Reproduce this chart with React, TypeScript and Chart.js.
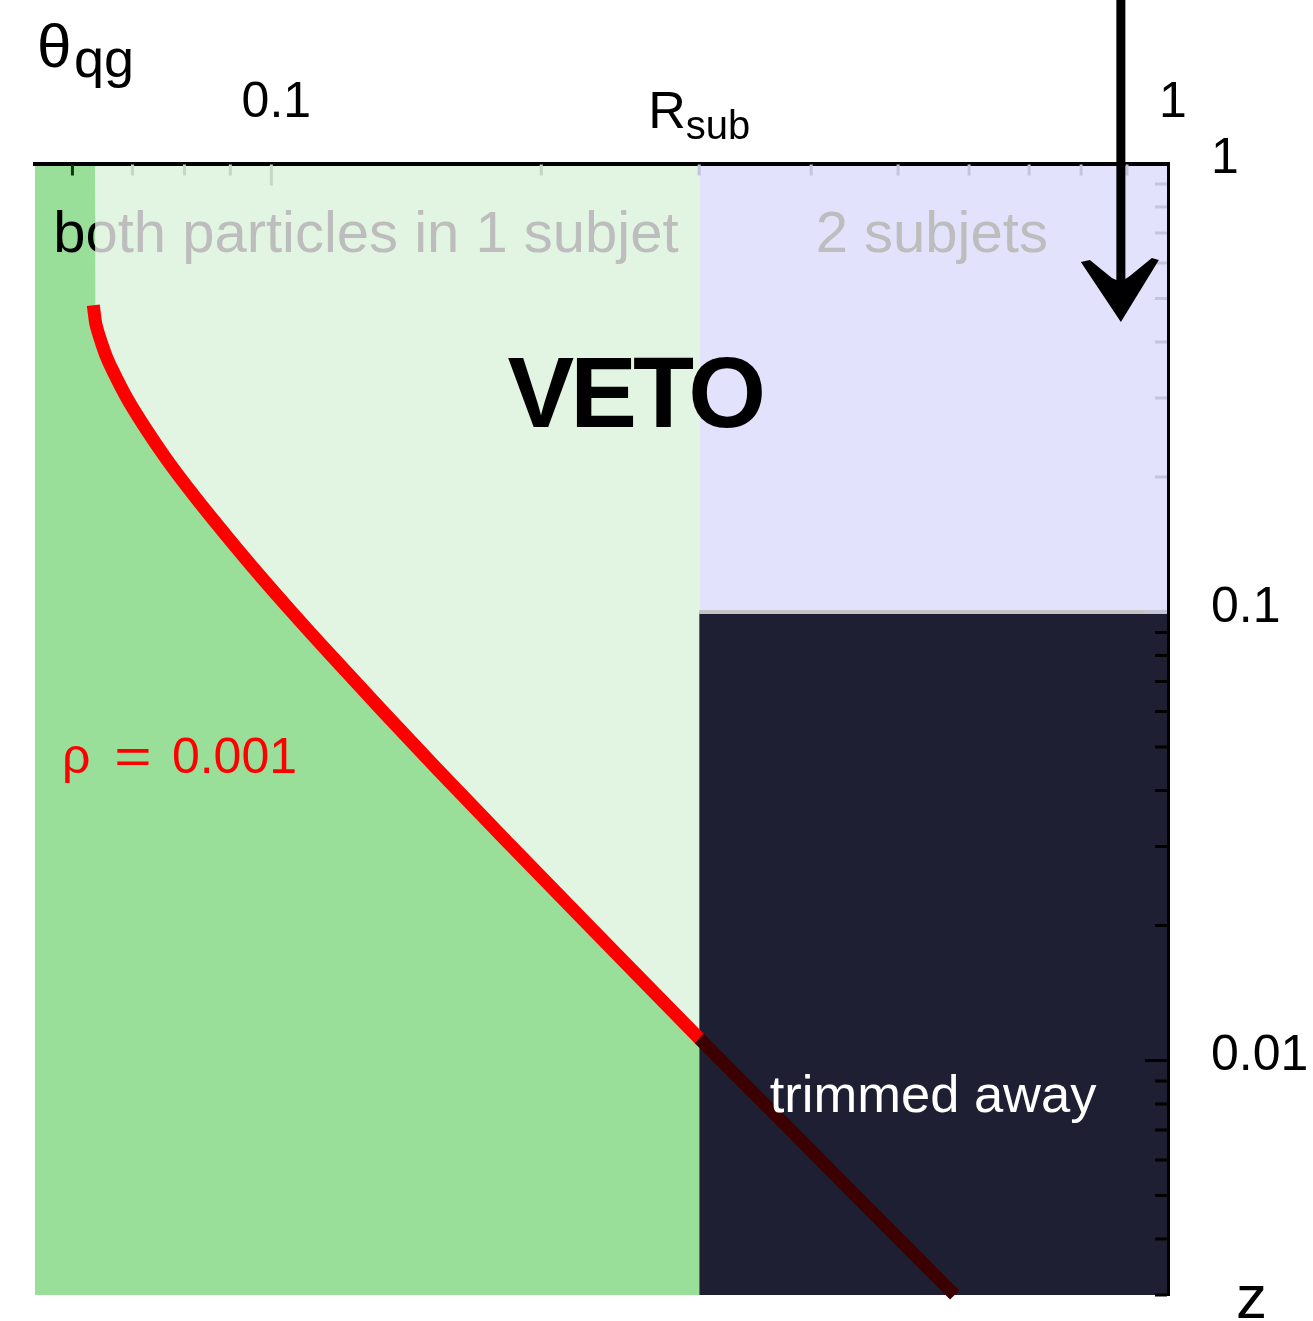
import React, { useEffect, useRef } from 'react';
import { Chart, registerables } from 'chart.js';

Chart.register(...registerables);

// ---------- axis ranges ----------
const THETA_MIN = 0.0545;
const THETA_MAX = 1;
const Z_MIN = 0.003;
const Z_MAX = 1;
const R_SUB = 0.3; // subjet radius (x position of "R_sub")
const Z_CUT = 0.1; // trimming cut in z
const THETA_STRIP = 0.0636; // right edge of the dark-green strip at the top
const Z_STRIP = 0.447; // where that edge meets the curve

// ---------- tick values ----------
const thetaLabelTicks = [0.1, 1];
const zLabelTicks = [0.01, 0.1, 1];
const thetaMinorTicks = [0.06, 0.07, 0.08, 0.09, 0.2, 0.3, 0.4, 0.5, 0.6, 0.7, 0.8, 0.9];
const thetaMajorTicks = [0.1];
const zMinorTicks = [
  0.9, 0.8, 0.7, 0.6, 0.5, 0.4, 0.3, 0.2,
  0.09, 0.08, 0.07, 0.06, 0.05, 0.04, 0.03, 0.02,
  0.009, 0.008, 0.007, 0.006, 0.005, 0.004, 0.003,
];
const zMajorTicks = [0.1, 0.01];

// ---------- rho = 0.001 curve ----------
const curveTheta = [
  0.0633, 0.0635, 0.0637, 0.0641, 0.0646, 0.0655, 0.0668, 0.069, 0.0721, 0.0763,
  0.0823, 0.0886, 0.0973, 0.1054, 0.1166, 0.1332, 0.1525, 0.1854, 0.2259, 0.3,
  0.3793, 0.4483, 0.5782,
];
const curveZ = [
  0.483, 0.46, 0.44, 0.42, 0.4, 0.37, 0.34, 0.3, 0.26, 0.22,
  0.18, 0.15, 0.12, 0.1, 0.08, 0.06, 0.045, 0.03, 0.02, 0.0112,
  0.007, 0.005, 0.003,
];

// ---------- texts ----------
const thetaTitle = 'θ';
const thetaTitleSub = 'qg';
const zTitle = 'z';
const rSubMain = 'R';
const rSubSub = 'sub';
const oneSubjetText = 'both particles in 1 subjet';
const twoSubjetText = '2 subjets';
const vetoText = 'VETO';
const rhoParts = ['ρ', '=', '0.001'];
const trimmedText = 'trimmed away';

// ---------- styles ----------
const FONT = "'Liberation Sans', Arial, Helvetica, sans-serif";
const DARK_GREEN = '#99de99';
const LIGHT_GREEN = '#e2f5e2';
const LAVENDER = '#e2e2fc';
const NAVY = '#1f1f33';
const RED = '#ff0000';
const DARK_RED = '#3c0000';
const GRAY_TEXT = '#bdbdbd';
const TICK_DARK = '#0f350f';
const TICK_GREEN = '#c3d7c3';
const TICK_LAV = '#c4c4dc';

const pts = (xs: number[], ys: number[]) => xs.map((x, i) => ({ x, y: ys[i] }));

const overlayPlugin = {
  id: 'overlay',
  afterDraw(chart: any) {
    const { ctx, chartArea: ca } = chart;
    const xs = chart.scales.x;
    const ys = chart.scales.y;
    const X = (v: number) => xs.getPixelForValue(v);
    const Y = (v: number) => ys.getPixelForValue(v);
    ctx.save();

    // ---- inward tick marks ----
    ctx.lineWidth = 3;
    ctx.lineCap = 'butt';
    const topTick = (v: number, len: number) => {
      const px = X(v);
      ctx.strokeStyle = v < THETA_STRIP ? TICK_DARK : v < R_SUB ? TICK_GREEN : TICK_LAV;
      ctx.beginPath();
      ctx.moveTo(px, ca.top + 1);
      ctx.lineTo(px, ca.top + len);
      ctx.stroke();
    };
    thetaMinorTicks.forEach((v) => topTick(v, 12));
    thetaMajorTicks.forEach((v) => topTick(v, 22));
    const rightTick = (v: number, len: number) => {
      const py = Y(v);
      ctx.strokeStyle = v >= Z_CUT ? TICK_LAV : '#000';
      ctx.beginPath();
      ctx.moveTo(ca.right - 1, py);
      ctx.lineTo(ca.right - len, py);
      ctx.stroke();
    };
    zMinorTicks.forEach((v) => rightTick(v, 13));
    zMajorTicks.forEach((v) => rightTick(v, 23));

    // ---- texts in the plane ----
    ctx.textBaseline = 'alphabetic';
    ctx.textAlign = 'left';
    const xStrip = X(THETA_STRIP);

    ctx.font = `58px ${FONT}`;
    const ox = X(0.0571);
    const oy = Y(0.635);
    ctx.save();
    ctx.beginPath();
    ctx.rect(xStrip, 0, chart.width, chart.height);
    ctx.clip();
    ctx.fillStyle = GRAY_TEXT;
    ctx.fillText(oneSubjetText, ox, oy);
    ctx.restore();
    ctx.save();
    ctx.beginPath();
    ctx.rect(0, 0, xStrip, chart.height);
    ctx.clip();
    ctx.fillStyle = '#000';
    ctx.fillText(oneSubjetText, ox, oy);
    ctx.restore();

    ctx.fillStyle = GRAY_TEXT;
    ctx.fillText(twoSubjetText, X(0.4047), Y(0.635));

    ctx.font = `bold 100px ${FONT}`;
    ctx.fillStyle = '#000';
    (ctx as any).letterSpacing = '-4px';
    ctx.fillText(vetoText, X(0.1834), Y(0.2585));
    (ctx as any).letterSpacing = '0px';

    // rho label, three pieces
    ctx.font = `50px ${FONT}`;
    ctx.fillStyle = RED;
    const rx0 = X(0.0584);
    const ry = Y(0.04375);
    ctx.fillText(rhoParts[0], rx0, ry);
    const eqW = ctx.measureText(rhoParts[1]).width;
    ctx.save();
    ctx.translate(rx0 + 71, ry);
    ctx.scale(1.28, 1);
    ctx.fillText(rhoParts[1], -eqW / 2, 0);
    ctx.restore();
    ctx.fillText(rhoParts[2], rx0 + 110, ry);

    ctx.font = `52.5px ${FONT}`;
    ctx.fillStyle = '#fff';
    ctx.fillText(trimmedText, X(0.3596), Y(0.00768));

    // ---- axis titles ----
    ctx.fillStyle = '#000';
    ctx.font = `62px ${FONT}`;
    ctx.fillText(thetaTitle, 37, 67);
    ctx.font = `54px ${FONT}`;
    ctx.fillText(thetaTitleSub, 74, 77);

    ctx.font = `52px ${FONT}`;
    const wR = ctx.measureText(rSubMain).width;
    ctx.font = `40px ${FONT}`;
    const wS = ctx.measureText(rSubSub).width;
    const rx = X(R_SUB) - (wR + wS) / 2;
    ctx.font = `52px ${FONT}`;
    ctx.fillText(rSubMain, rx, 128);
    ctx.font = `40px ${FONT}`;
    ctx.fillText(rSubSub, rx + wR, 139);

    ctx.font = `62px ${FONT}`;
    ctx.fillText(zTitle, ca.right + 68, ca.bottom + 23);

    // ---- hand-drawn arrow ----
    const ax = X(0.886);
    const tipY = Y(0.443);
    ctx.strokeStyle = '#000';
    ctx.lineWidth = 9;
    ctx.beginPath();
    ctx.moveTo(ax, 0);
    ctx.lineTo(ax, tipY - 30);
    ctx.stroke();
    ctx.fillStyle = '#000';
    ctx.beginPath();
    ctx.moveTo(ax, tipY);
    ctx.lineTo(ax - 40, tipY - 60);
    ctx.lineTo(ax - 31, tipY - 62);
    ctx.lineTo(ax - 9, tipY - 44);
    ctx.lineTo(ax, tipY - 40);
    ctx.lineTo(ax + 9, tipY - 46);
    ctx.lineTo(ax + 31, tipY - 64);
    ctx.lineTo(ax + 38, tipY - 62);
    ctx.closePath();
    ctx.fill();

    ctx.restore();
  },
};

export default function App() {
  const ref = useRef<HTMLCanvasElement>(null);

  useEffect(() => {
    const canvas = ref.current;
    if (!canvas) return;

    const greenPoly = [
      { x: THETA_MIN, y: Z_MAX },
      { x: THETA_STRIP, y: Z_MAX },
      { x: THETA_STRIP, y: Z_STRIP },
      ...pts(curveTheta, curveZ).filter((p) => p.x > THETA_STRIP && p.x <= R_SUB),
      { x: R_SUB, y: Z_MIN },
    ];

    const region = {
      borderColor: 'rgba(0,0,0,0)',
      borderWidth: 0,
      pointRadius: 0,
      tension: 0,
    };

    const chart = new Chart(canvas, {
      type: 'line',
      data: {
        datasets: [
          {
            ...region,
            label: 'one subjet',
            data: [
              { x: THETA_STRIP, y: Z_MAX },
              { x: R_SUB, y: Z_MAX },
            ],
            fill: 'start',
            backgroundColor: LIGHT_GREEN,
            order: 5,
          },
          {
            ...region,
            label: 'two subjets',
            data: [
              { x: R_SUB, y: Z_MAX },
              { x: THETA_MAX, y: Z_MAX },
            ],
            fill: { value: Z_CUT },
            backgroundColor: LAVENDER,
            order: 4,
          },
          {
            ...region,
            label: 'below rho',
            data: greenPoly,
            fill: 'start',
            backgroundColor: DARK_GREEN,
            order: 3,
          },
          {
            label: 'trimmed away',
            data: [
              { x: R_SUB, y: Z_CUT },
              { x: THETA_MAX, y: Z_CUT },
            ],
            fill: 'start',
            backgroundColor: NAVY,
            borderColor: '#c4c4c4',
            borderWidth: 4,
            pointRadius: 0,
            tension: 0,
            order: 2,
          },
          {
            label: 'rho = 0.001',
            data: pts(curveTheta, curveZ),
            fill: false,
            borderColor: RED,
            borderWidth: 13,
            borderCapStyle: 'butt',
            borderJoinStyle: 'round',
            pointRadius: 0,
            cubicInterpolationMode: 'monotone',
            clip: false,
            segment: {
              borderColor: (c: any) => (c.p0.parsed.x >= R_SUB - 1e-9 ? DARK_RED : undefined),
            },
            order: 1,
          },
        ] as any,
      },
      options: {
        responsive: false,
        animation: false,
        events: [],
        layout: { padding: { left: 35, right: 0, top: 0, bottom: 26 } },
        plugins: {
          legend: { display: false },
          tooltip: { enabled: false },
        },
        scales: {
          x: {
            type: 'logarithmic',
            position: 'top',
            min: THETA_MIN,
            max: THETA_MAX,
            grid: { display: false, drawTicks: false },
            border: { display: true, color: '#000', width: 4, z: 1 },
            afterBuildTicks: (s: any) => {
              s.ticks = thetaLabelTicks.map((v) => ({ value: v }));
            },
            afterFit: (s: any) => {
              s.height = 163.5;
              s.paddingLeft = 0;
              s.paddingRight = 0;
            },
            ticks: {
              autoSkip: false,
              maxRotation: 0,
              minRotation: 0,
              padding: 30,
              labelOffset: 5,
              color: '#000',
              font: { family: FONT, size: 50 },
              callback: (v: any) => String(Number(v)),
            },
          },
          y: {
            type: 'logarithmic',
            position: 'right',
            min: Z_MIN,
            max: Z_MAX,
            grid: { display: false, drawTicks: false },
            border: { display: true, color: '#000', width: 3, z: 1 },
            afterBuildTicks: (s: any) => {
              s.ticks = zLabelTicks.map((v) => ({ value: v }));
            },
            afterFit: (s: any) => {
              s.width = 145;
              s.paddingTop = 0;
              s.paddingBottom = 0;
            },
            ticks: {
              autoSkip: false,
              padding: 43,
              labelOffset: -4,
              color: '#000',
              font: { family: FONT, size: 50 },
              callback: (v: any) => String(Number(v)),
            },
          },
        },
      } as any,
      plugins: [overlayPlugin],
    });

    return () => chart.destroy();
  }, []);

  return (
    <div style={{ position: 'absolute', left: 0, top: 0, width: 1313, height: 1321 }}>
      <canvas
        ref={ref}
        width={1313}
        height={1321}
        style={{ width: 1313, height: 1321, display: 'block' }}
      />
    </div>
  );
}
